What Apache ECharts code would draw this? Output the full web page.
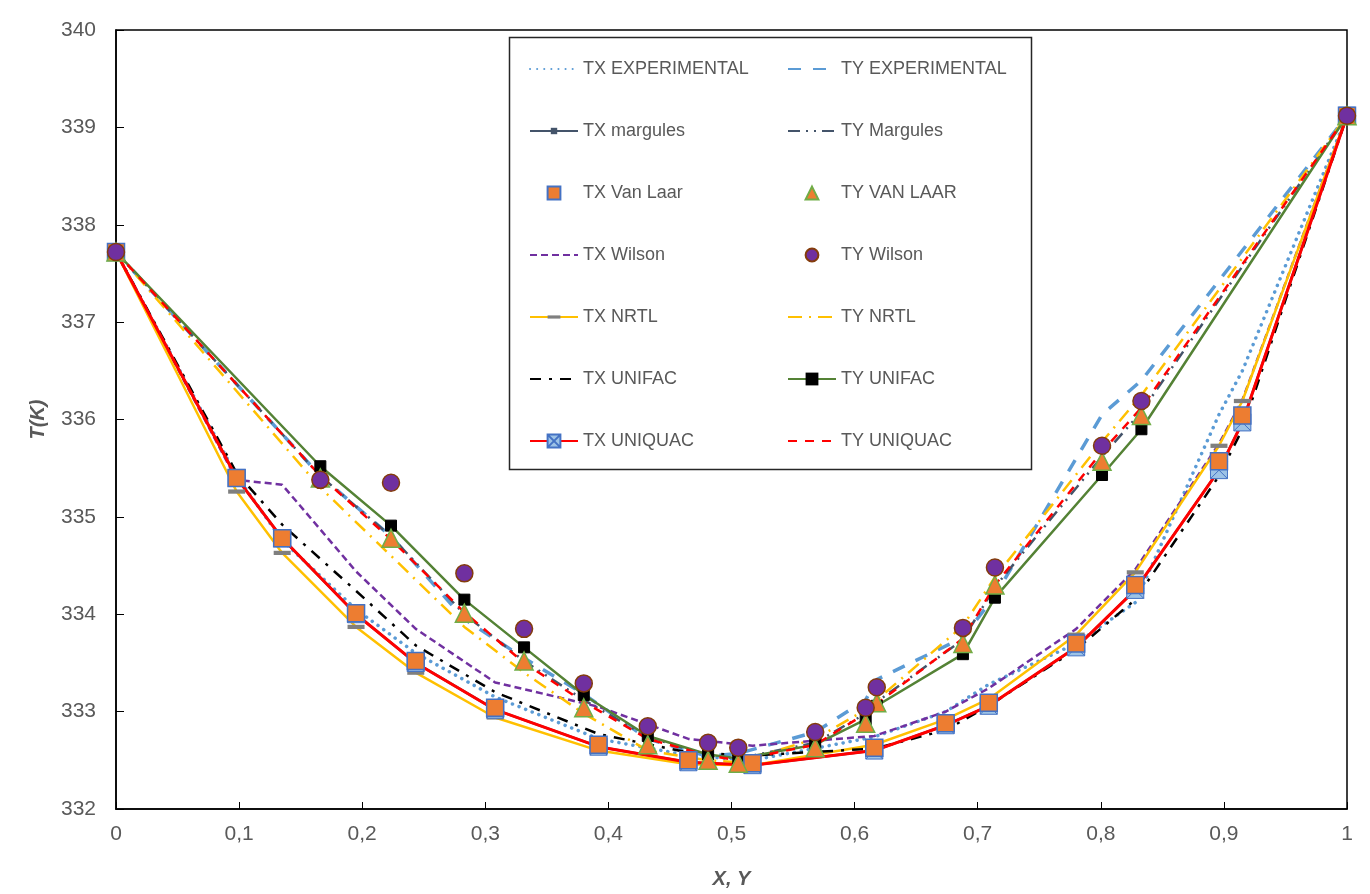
<!DOCTYPE html>
<html>
<head>
<meta charset="utf-8">
<script src="https://cdn.jsdelivr.net/npm/echarts@6/dist/echarts.min.js"></script>
<style>
  html, body { margin: 0; background: #fff; }
  #chart { width: 1370px; height: 894px; }
</style>
</head>
<body>
<div id="chart"></div>
<script>
// liquid (x) and vapour (y) compositions
const xLiquid = [0, 0.098, 0.135, 0.195, 0.2435, 0.308, 0.392, 0.465, 0.517, 0.616, 0.674, 0.709, 0.780, 0.828, 0.896, 0.915, 1];
const yVapor  = [0, 0.166, 0.2234, 0.283, 0.3315, 0.380, 0.432, 0.481, 0.5055, 0.568, 0.609, 0.618, 0.688, 0.714, 0.801, 0.833, 1];

// temperatures, K
const txExp      = [337.72, 335.42, 334.76, 334.05, 333.60, 333.15, 332.72, 332.55, 332.50, 332.74, 333.00, 333.28, 333.70, 334.12, 336.05, 336.50, 339.12];
const tyExp      = [337.72, 335.42, 334.80, 333.95, 333.55, 333.18, 332.72, 332.54, 332.57, 332.79, 333.12, 333.33, 333.76, 334.19, 336.05, 336.40, 339.12];
const txMargules = [337.72, 335.40, 334.78, 334.00, 333.50, 333.02, 332.64, 332.48, 332.45, 332.60, 332.86, 333.06, 333.66, 334.25, 335.48, 335.97, 339.12];
const tyMargules = [337.72, 335.42, 334.80, 334.00, 333.52, 333.12, 332.74, 332.55, 332.52, 332.68, 332.98, 333.10, 333.74, 334.28, 335.62, 336.08, 339.12];
const vanLaarT   = [337.72, 335.40, 334.78, 334.01, 333.52, 333.04, 332.66, 332.50, 332.47, 332.63, 332.88, 333.09, 333.70, 334.30, 335.57, 336.04, 339.12];
const txWilson   = [337.72, 335.38, 335.33, 334.44, 333.85, 333.30, 333.05, 332.72, 332.65, 332.75, 333.00, 333.24, 333.85, 334.46, 335.75, 336.20, 339.12];
const tyWilson   = [337.72, 335.38, 335.35, 334.42, 333.85, 333.29, 332.85, 332.68, 332.63, 332.79, 333.04, 333.25, 333.86, 334.48, 335.73, 336.19, 339.12];
const txNrtl     = [337.72, 335.26, 334.63, 333.87, 333.40, 332.94, 332.60, 332.46, 332.45, 332.66, 332.92, 333.13, 333.79, 334.43, 335.73, 336.19, 339.12];
const tyNrtl     = [337.72, 335.30, 334.60, 333.87, 333.40, 332.98, 332.60, 332.50, 332.48, 332.72, 333.02, 333.12, 333.88, 334.38, 335.77, 336.25, 339.12];
const txUnifac   = [337.72, 335.45, 334.92, 334.24, 333.68, 333.20, 332.77, 332.58, 332.55, 332.62, 332.81, 333.06, 333.64, 334.15, 335.42, 335.90, 339.12];
const tyUnifac   = [337.72, 335.52, 334.91, 334.15, 333.66, 333.17, 332.75, 332.56, 332.52, 332.66, 332.92, 333.06, 333.59, 334.17, 335.43, 335.90, 339.12];
const txUniquac  = [337.72, 335.40, 334.78, 334.00, 333.50, 333.02, 332.64, 332.48, 332.45, 332.60, 332.86, 333.06, 333.66, 334.25, 335.48, 335.97, 339.12];
const tyUniquac  = [337.72, 335.42, 334.77, 334.02, 333.50, 333.10, 332.72, 332.55, 332.50, 332.66, 332.98, 333.08, 333.75, 334.30, 335.67, 336.12, 339.12];

const legendLeft  = ['TX EXPERIMENTAL', 'TX margules', 'TX Van Laar', 'TX Wilson', 'TX NRTL', 'TX UNIFAC', 'TX UNIQUAC'];
const legendRight = ['TY EXPERIMENTAL', 'TY Margules', 'TY VAN LAAR', 'TY Wilson', 'TY NRTL', 'TY UNIFAC', 'TY UNIQUAC'];
// these have no marker, so the legend should show the line only
const lineOnly = ['TX EXPERIMENTAL', 'TY EXPERIMENTAL', 'TY Margules', 'TX Wilson', 'TY NRTL', 'TX UNIFAC', 'TY UNIQUAC'];

// markers drawn inside a square box so the legend keeps their shape
const dashMark  = 'path://M0,0L0,0M0,6H16V10H0ZM16,16L16,16';
const smallMark = 'path://M0,0L0,0M4,4H12V12H4ZM16,16L16,16';

const pts = (xs, ts) => xs.map((x, i) => [x, ts[i]]);

// plain line without markers
function line(name, xs, ts, color, type, width, cap) {
  return {
    name: name, type: 'line', data: pts(xs, ts),
    symbol: 'none', z: 2,
    lineStyle: { color: color, type: type, width: width, cap: cap || 'butt' },
    itemStyle: { color: color }
  };
}

// markers only
function markers(name, xs, ts, symbol, size, fill, border, z) {
  return {
    name: name, type: 'line', data: pts(xs, ts),
    symbol: symbol, symbolSize: size, showAllSymbol: true, z: z,
    lineStyle: { width: 0, opacity: 0 },
    itemStyle: { color: fill, borderColor: border, borderWidth: 1.5, opacity: 1 }
  };
}

const series = [
  line('TX EXPERIMENTAL', xLiquid, txExp, '#5B9BD5', [0.1, 7], 3.5, 'round'),
  line('TY EXPERIMENTAL', yVapor, tyExp, '#5B9BD5', [13, 12], 3.5),
  {
    name: 'TX margules', type: 'line', data: pts(xLiquid, txMargules), z: 2,
    symbol: smallMark, symbolSize: 16, showAllSymbol: true,
    lineStyle: { color: '#44546A', width: 2.5 },
    itemStyle: { color: '#44546A', borderWidth: 0 }
  },
  line('TY Margules', yVapor, tyMargules, '#44546A', [12, 6, 2, 6, 2, 6], 2.5),
  line('TX Wilson', xLiquid, txWilson, '#7030A0', [7, 4], 2.5),
  {
    name: 'TX NRTL', type: 'line', data: pts(xLiquid, txNrtl), z: 2,
    symbol: dashMark, symbolSize: 17, showAllSymbol: true,
    lineStyle: { color: '#FFC000', width: 2.5 },
    itemStyle: { color: '#7F7F7F', borderWidth: 0 }
  },
  line('TY NRTL', yVapor, tyNrtl, '#FFC000', [14, 7, 2, 7], 2.5),
  line('TX UNIFAC', xLiquid, txUnifac, '#000000', [11, 8, 3, 8], 2.5),
  {
    name: 'TY UNIFAC', type: 'line', data: pts(yVapor, tyUnifac), z: 2,
    symbol: 'rect', symbolSize: 11, showAllSymbol: true,
    lineStyle: { color: '#548235', width: 2.5 },
    itemStyle: { color: '#000000', borderColor: '#000000' }
  },
  {
    name: 'TX UNIQUAC', type: 'line', data: pts(xLiquid, txUniquac), z: 2,
    symbol: 'path://M0,0H10V10H0Z M0,0L10,10 M10,0L0,10', symbolSize: 17, showAllSymbol: true,
    lineStyle: { color: '#FF0000', width: 3 },
    itemStyle: { color: '#9DC3E6', borderColor: '#4472C4', borderWidth: 1 }
  },
  line('TY UNIQUAC', yVapor, tyUniquac, '#FF0000', [9, 8], 2.5),
  markers('TX Van Laar', xLiquid, vanLaarT, 'rect', 17, '#ED7D31', '#4472C4', 4),
  markers('TY VAN LAAR', yVapor, vanLaarT, 'triangle', 18, '#ED7D31', '#70AD47', 4),
  markers('TY Wilson', yVapor, tyWilson, 'circle', 17, '#7030A0', '#843C0C', 5)
];

const legendText = { color: '#595959', fontSize: 18, fontFamily: 'Liberation Sans' };
const legendItems = names => names.map(n => lineOnly.indexOf(n) >= 0
  ? { name: n, itemStyle: { color: 'rgba(0,0,0,0)', borderWidth: 0, opacity: 0 } }
  : { name: n });

const chart = echarts.init(document.getElementById('chart'));
chart.setOption({
  animation: false,
  backgroundColor: '#fff',
  textStyle: { fontFamily: 'Liberation Sans' },
  grid: {
    left: 116, right: 23, top: 30, bottom: 84,
    show: true, borderColor: '#000', borderWidth: 1.5
  },
  xAxis: {
    type: 'value', min: 0, max: 1, interval: 0.1,
    name: 'X, Y', nameLocation: 'middle', nameGap: 60,
    nameTextStyle: { color: '#595959', fontSize: 20, fontWeight: 'bold', fontStyle: 'italic' },
    axisLine: { lineStyle: { color: '#000', width: 1.5 } },
    axisTick: { inside: true, length: 7, lineStyle: { color: '#000' } },
    axisLabel: {
      color: '#595959', fontSize: 21, margin: 15,
      formatter: v => String(Math.round(v * 10) / 10).replace('.', ',')
    },
    splitLine: { show: false }
  },
  yAxis: {
    type: 'value', min: 332, max: 340, interval: 1,
    name: 'T(K)', nameLocation: 'middle', nameGap: 68,
    nameTextStyle: { color: '#595959', fontSize: 20, fontWeight: 'bold', fontStyle: 'italic' },
    axisLine: { lineStyle: { color: '#000', width: 1.5 } },
    axisTick: { inside: true, length: 8, lineStyle: { color: '#000' } },
    axisLabel: { color: '#595959', fontSize: 21, margin: 20 },
    splitLine: { show: false }
  },
  legend: [
    {
      data: legendItems(legendLeft), orient: 'vertical', left: 524, top: 55,
      itemWidth: 48, itemHeight: 16, itemGap: 44,
      textStyle: legendText, selectedMode: false
    },
    {
      data: legendItems(legendRight), orient: 'vertical', left: 782, top: 55,
      itemWidth: 48, itemHeight: 16, itemGap: 44,
      textStyle: legendText, selectedMode: false
    }
  ],
  graphic: [{
    type: 'rect', left: 507, top: 35, z: 10, silent: true,
    shape: { width: 522, height: 432 },
    style: { fill: 'none', stroke: '#262626', lineWidth: 1.5 }
  }],
  series: series
});
</script>
</body>
</html>
